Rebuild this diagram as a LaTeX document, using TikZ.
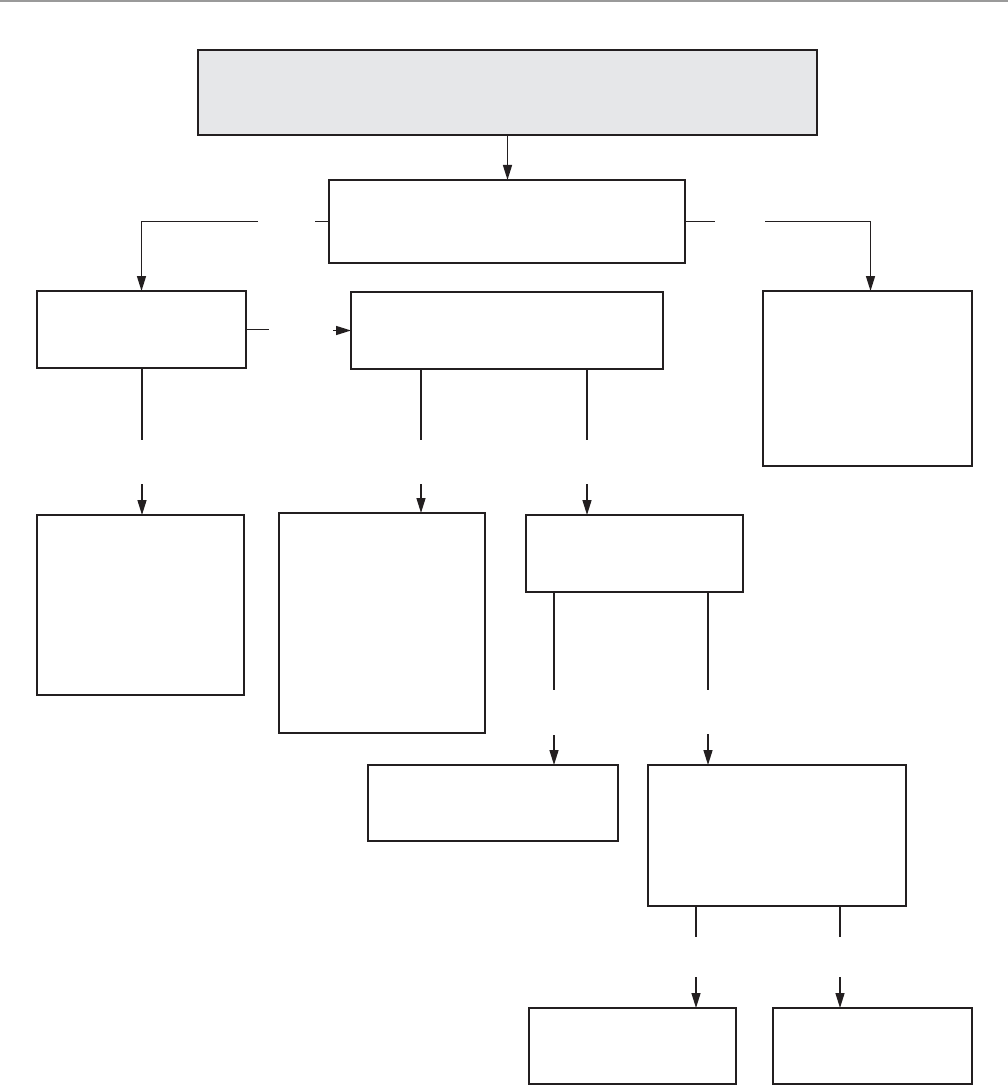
\documentclass[tikz,border=0pt]{standalone}
\usetikzlibrary{arrows.meta}
\definecolor{ln}{HTML}{231F20}
\definecolor{topfill}{HTML}{E6E7E9}
\definecolor{rule}{HTML}{9A9A9A}
\begin{document}
\begin{tikzpicture}[x=1pt,y=-1pt,
  box/.style={draw=ln, line width=1.4pt, inner sep=0pt, outer sep=0pt, anchor=north west},
  conn/.style={draw=ln, line width=1.4pt},
  arr/.style={conn, -{Triangle[length=15pt,width=9pt]}}]
\useasboundingbox (0,0) rectangle (1008,1086);
\fill[white] (0,0) rectangle (1008,1086);
\draw[rule, line width=2.2pt] (0,1.1) -- (1008,1.1);

% boxes
\node[box, fill=topfill, minimum width=619pt, minimum height=85pt] (top) at (198,50) {};
\node[box, minimum width=356pt, minimum height=83pt] (A) at (329,180) {};
\node[box, minimum width=209pt, minimum height=77pt] (B) at (37,291) {};
\node[box, minimum width=312pt, minimum height=77pt] (D) at (351,292) {};
\node[box, minimum width=209pt, minimum height=175pt] (C) at (763,291) {};
\node[box, minimum width=207pt, minimum height=180pt] (E) at (37,515) {};
\node[box, minimum width=206pt, minimum height=220pt] (F) at (279,513) {};
\node[box, minimum width=217pt, minimum height=77pt] (G) at (526,515) {};
\node[box, minimum width=250pt, minimum height=76pt] (H) at (368,765) {};
\node[box, minimum width=258pt, minimum height=141pt] (I) at (648,765) {};
\node[box, minimum width=207pt, minimum height=76pt] (J) at (529,1008) {};
\node[box, minimum width=199pt, minimum height=76pt] (K) at (773,1008) {};

% gap end points
\coordinate (l1) at ([xshift=-14pt]A.west);
\coordinate (l2) at ([xshift=-71pt]A.west);
\coordinate (r1) at ([xshift=30pt]A.east);
\coordinate (r2) at ([xshift=80pt]A.east);
\coordinate (bd1) at ([xshift=23pt]B.east);
\coordinate (bd2) at ([xshift=-18pt]D.west);
\coordinate (e1) at (142,440); \coordinate (e2) at (142,484);
\coordinate (f1) at (421,440); \coordinate (f2) at (421,484);
\coordinate (g1) at (587,440); \coordinate (g2) at (587,484);
\coordinate (h1) at (554,690); \coordinate (h2) at (554,735);
\coordinate (i1) at (708,690); \coordinate (i2) at (708,734);
\coordinate (j1) at (696,937); \coordinate (j2) at (696,977);
\coordinate (k1) at (840,937); \coordinate (k2) at (840,977);

% connectors
\draw[arr] (top.south) -- (top.south |- A.north);
\draw[conn] (A.west) -- (l1);
\draw[arr] (l2) -| (B.north);
\draw[conn] (A.east) -- (r1);
\draw[arr] (r2) -| ([xshift=3pt]C.north);
\draw[conn] (B.east) -- (bd1);
\draw[arr] (bd2) -- (bd2 -| D.west);
\draw[conn] (B.south -| e1) -- (e1);
\draw[arr] (e2) -- (E.north -| e2);
\draw[conn] (D.south -| f1) -- (f1);
\draw[arr] (f2) -- (F.north -| f2);
\draw[conn] (D.south -| g1) -- (g1);
\draw[arr] (g2) -- (G.north -| g2);
\draw[conn] (G.south -| h1) -- (h1);
\draw[arr] (h2) -- (H.north -| h2);
\draw[conn] (G.south -| i1) -- (i1);
\draw[arr] (i2) -- (I.north -| i2);
\draw[conn] (I.south -| j1) -- (j1);
\draw[arr] (j2) -- (J.north -| j2);
\draw[conn] (I.south -| k1) -- (k1);
\draw[arr] (k2) -- (K.north -| k2);
\end{tikzpicture}
\end{document}
